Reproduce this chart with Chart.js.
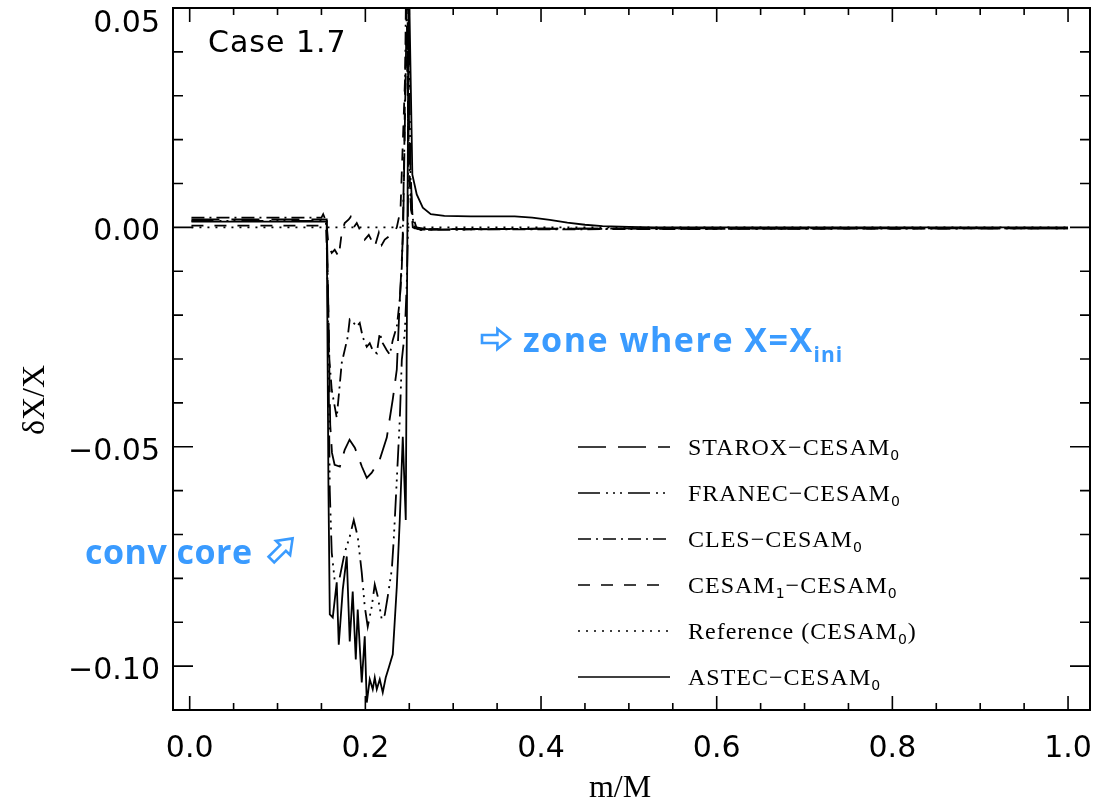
<!DOCTYPE html>
<html>
<head>
<meta charset="utf-8">
<title>Case 1.7</title>
<script src="https://cdn.jsdelivr.net/npm/chart.js@4.4.1/dist/chart.umd.min.js"></script>
<style>
  html, body { margin: 0; padding: 0; background: #fff; }
  #wrap { width: 1111px; height: 806px; }
</style>
</head>
<body>
<div id="wrap"><canvas id="profile" width="1111" height="806"></canvas></div>
<script>
// [m/M, dX/X] pairs for every model difference
const starox = [
    [0.002, 0.0018], [0.156, 0.0018], [0.158, -0.020], [0.160, -0.045], [0.162, -0.0514],
    [0.165, -0.0541], [0.171, -0.0545], [0.1765, -0.0507], [0.182, -0.0484], [0.188, -0.0502],
    [0.196, -0.0545], [0.2016, -0.0571], [0.2073, -0.0559], [0.2164, -0.0529], [0.2244, -0.0479],
    [0.2312, -0.0392], [0.2358, -0.0324], [0.2392, -0.0165], [0.2415, -0.0074], [0.2430, -0.0010],
    [0.2455, 0.030], [0.2475, 0.056], [0.2500, 0.020], [0.2535, 0.003], [0.258, 0.0],
    [0.270, -0.0004], [0.40, -0.0003], [0.60, -0.0002], [1.0, -0.0002]
];
const franec = [
    [0.002, 0.0015], [0.156, 0.0015], [0.158, -0.030], [0.1595, -0.060], [0.1617, -0.0741],
    [0.165, -0.0803], [0.1708, -0.0798], [0.1765, -0.0741], [0.1822, -0.0705], [0.1868, -0.0667],
    [0.1913, -0.0705], [0.1959, -0.0787], [0.1993, -0.0864], [0.2027, -0.0910], [0.2073, -0.0864],
    [0.2107, -0.0814], [0.2141, -0.0841], [0.2187, -0.0894], [0.2221, -0.0883], [0.2255, -0.0841],
    [0.2301, -0.0780], [0.2323, -0.0712], [0.2335, -0.0666], [0.2358, -0.0575], [0.2392, -0.0438],
    [0.2415, -0.0302], [0.2449, -0.0240], [0.2472, -0.0127], [0.2483, -0.0028], [0.2495, 0.045],
    [0.2515, 0.010], [0.2545, 0.0], [0.260, -0.0006], [0.40, -0.0003], [1.0, -0.0002]
];
const cles = [
    [0.002, 0.0022], [0.150, 0.0022], [0.152, 0.0030], [0.155, 0.0015], [0.157, -0.010],
    [0.159, -0.030], [0.1617, -0.037], [0.1674, -0.0434], [0.1731, -0.0309], [0.1799, -0.0250],
    [0.1822, -0.0210], [0.1856, -0.0215], [0.1902, -0.0226], [0.1936, -0.0218], [0.1970, -0.0250],
    [0.2016, -0.0272], [0.2050, -0.0264], [0.2084, -0.0280], [0.2130, -0.0287], [0.2164, -0.0241],
    [0.2198, -0.0264], [0.2244, -0.0280], [0.2278, -0.0290], [0.2312, -0.0257], [0.2358, -0.0226],
    [0.2392, -0.0165], [0.2415, -0.0090], [0.2426, -0.0012], [0.2445, 0.020], [0.2465, 0.058],
    [0.2490, 0.020], [0.2520, 0.004], [0.256, 0.0], [0.262, -0.0005], [1.0, -0.0002]
];
const cesam1 = [
    [0.002, 0.0004], [0.156, 0.0004], [0.158, -0.0040], [0.1617, -0.0058], [0.1651, -0.0051],
    [0.1697, -0.0067], [0.1731, -0.0012], [0.1765, 0.0010], [0.1811, 0.0018], [0.1833, 0.0024],
    [0.1868, 0.0], [0.1902, 0.0010], [0.1936, -0.0005], [0.1993, -0.0028], [0.2039, -0.0017],
    [0.2107, -0.0044], [0.2153, -0.0012], [0.2187, -0.0040], [0.2221, -0.0028], [0.2323, -0.0012],
    [0.2358, 0.0], [0.2400, 0.004], [0.2445, 0.030], [0.2470, 0.045], [0.2500, 0.010],
    [0.254, 0.0], [0.260, -0.0004], [1.0, -0.0002]
];
const reference = [[0.002, 0.0], [1.0, 0.0]];
const astec = [
    [0.002, 0.0013], [0.156, 0.0013], [0.158, -0.060], [0.1595, -0.0882], [0.1629, -0.0889],
    [0.1674, -0.0809], [0.1697, -0.0951], [0.1743, -0.0825], [0.1788, -0.0750], [0.1822, -0.0944],
    [0.1856, -0.0830], [0.1891, -0.0985], [0.1913, -0.0871], [0.1959, -0.1037], [0.1993, -0.0932],
    [0.2016, -0.1083], [0.2050, -0.1030], [0.2084, -0.1053], [0.2107, -0.1026], [0.2130, -0.1053],
    [0.2164, -0.1030], [0.2198, -0.1060], [0.2232, -0.1026], [0.2267, -0.1003], [0.2312, -0.0973],
    [0.2358, -0.0819], [0.2392, -0.0666], [0.2426, -0.0477], [0.2460, -0.0667], [0.2495, 0.058],
    [0.2535, 0.012], [0.2585, 0.0075], [0.2654, 0.0045], [0.2745, 0.0030], [0.29, 0.0026],
    [0.32, 0.0025], [0.37, 0.0025], [0.39, 0.0022], [0.41, 0.0017], [0.43, 0.0011],
    [0.45, 0.0006], [0.47, 0.0003], [0.50, 0.0001], [0.53, 0.0], [1.0, 0.0]
];

const seriesNames = ['STAROX−CESAM_0', 'FRANEC−CESAM_0', 'CLES−CESAM_0',
                     'CESAM_1−CESAM_0', 'Reference (CESAM_0)', 'ASTEC−CESAM_0'];
const seriesDash = [[28, 12], [22, 6, 2, 5, 2, 5, 2, 6], [13, 5, 2, 5], [12, 11], [2, 6], []];
const seriesData = [starox, franec, cles, cesam1, reference, astec];

const xTicks = [0, 0.2, 0.4, 0.6, 0.8, 1.0];
const xTickLabels = ['0.0', '0.2', '0.4', '0.6', '0.8', '1.0'];
const yTicks = [0.05, 0.0, -0.05, -0.10];
const yTickLabels = ['0.05', '0.00', '−0.05', '−0.10'];
const xMinorStep = 0.05;
const yMinorStep = 0.01;

const BLUE = '#3a9bff';
const NOTE_FONT = 'bold 34px "Open Sans"';

// outlined block arrow, like the white arrow glyphs
function blockArrow(ctx, cx, cy, angle, len, h) {
    const shaft = h * 0.4, head = len * 0.45;
    const pts = [
        [-len / 2, -shaft / 2], [len / 2 - head, -shaft / 2], [len / 2 - head, -h / 2],
        [len / 2, 0], [len / 2 - head, h / 2], [len / 2 - head, shaft / 2], [-len / 2, shaft / 2]
    ];
    ctx.save();
    ctx.translate(cx, cy);
    ctx.rotate(angle);
    ctx.beginPath();
    pts.forEach(([px, py], i) => i ? ctx.lineTo(px, py) : ctx.moveTo(px, py));
    ctx.closePath();
    ctx.strokeStyle = BLUE;
    ctx.lineWidth = 2.6;
    ctx.lineJoin = 'miter';
    ctx.stroke();
    ctx.restore();
}

// text where "_c" puts the single character c as a subscript
function subText(ctx, str, x, y, font, subFont, drop) {
    let cx = x;
    str.split(/(_.)/).forEach(part => {
        if (!part) return;
        if (part[0] === '_') {
            ctx.font = subFont;
            ctx.fillText(part[1], cx, y + drop);
            cx += ctx.measureText(part[1]).width;
        } else {
            ctx.font = font;
            ctx.fillText(part, cx, y);
            cx += ctx.measureText(part).width;
        }
    });
    return cx;
}

const framePlugin = {
    id: 'framePlugin',
    afterDraw(chart) {
        const { ctx, chartArea: a, scales: { x, y } } = chart;
        ctx.save();

        // box
        ctx.strokeStyle = '#000';
        ctx.lineWidth = 2;
        ctx.setLineDash([]);
        ctx.strokeRect(a.left, a.top, a.right - a.left, a.bottom - a.top);

        // inward ticks on all four sides
        ctx.lineWidth = 1.6;
        ctx.beginPath();
        for (let i = 0; i * xMinorStep <= 1.0001; i++) {
            const px = x.getPixelForValue(i * xMinorStep);
            const len = i % 4 === 0 ? 14 : 7;
            ctx.moveTo(px, a.bottom); ctx.lineTo(px, a.bottom - len);
            ctx.moveTo(px, a.top); ctx.lineTo(px, a.top + len);
        }
        for (let i = -10; i <= 5; i++) {
            const py = y.getPixelForValue(i * yMinorStep);
            const len = i % 5 === 0 ? 20 : 10;
            ctx.moveTo(a.left, py); ctx.lineTo(a.left + len, py);
            ctx.moveTo(a.right, py); ctx.lineTo(a.right - len, py);
        }
        ctx.stroke();

        // tick labels
        ctx.fillStyle = '#000';
        ctx.font = '30px "DejaVu Sans"';
        ctx.textAlign = 'center';
        ctx.textBaseline = 'alphabetic';
        xTicks.forEach((v, i) => ctx.fillText(xTickLabels[i], x.getPixelForValue(v), 757));
        ctx.textAlign = 'right';
        yTicks.forEach((v, i) => {
            const py = Math.max(y.getPixelForValue(v) + 13, 32);
            ctx.fillText(yTickLabels[i], a.left - 13, py);
        });

        // axis titles
        ctx.textAlign = 'center';
        ctx.font = '32px "Liberation Serif"';
        ctx.fillText('m/M', 620, 797);
        ctx.save();
        ctx.translate(44, 400);
        ctx.rotate(-Math.PI / 2);
        ctx.fillText('δX/X', 0, 0);
        ctx.restore();

        ctx.textAlign = 'left';
        ctx.font = '30px "DejaVu Sans"';
        ctx.letterSpacing = '1px';
        ctx.fillText('Case 1.7', 208, 52);

        // legend
        chart.data.datasets.forEach((ds, i) => {
            const base = 455 + i * 46;
            ctx.beginPath();
            ctx.lineWidth = 1.7;
            ctx.setLineDash(ds.borderDash);
            ctx.moveTo(578, base - 8);
            ctx.lineTo(670, base - 8);
            ctx.stroke();
            ctx.setLineDash([]);
            ctx.letterSpacing = '1px';
            subText(ctx, ds.label, 688, base, '24px "Liberation Serif"', '14px "DejaVu Sans"', 5);
        });

        // annotations
        ctx.letterSpacing = '1.5px';
        ctx.fillStyle = BLUE;
        ctx.font = NOTE_FONT;
        ctx.fillText('zone where X=X', 523, 352);
        const w = ctx.measureText('zone where X=X').width;
        ctx.letterSpacing = '1px';
        ctx.font = 'bold 21px "Open Sans"';
        ctx.fillText('ini', 523 + w, 362);
        blockArrow(ctx, 496, 339, 0, 28, 20);

        ctx.letterSpacing = '0.5px';
        ctx.font = NOTE_FONT;
        ctx.fillText('conv core', 85, 564);
        blockArrow(ctx, 282, 549, -Math.PI / 4, 30, 20);

        ctx.restore();
    }
};

new Chart(document.getElementById('profile'), {
    type: 'line',
    data: {
        datasets: seriesData.map((pts, i) => ({
            label: seriesNames[i],
            data: pts.map(([m, d]) => ({ x: m, y: d })),
            borderColor: '#000',
            borderWidth: 1.8,
            borderDash: seriesDash[i],
            pointRadius: 0,
            tension: 0,
            fill: false
        }))
    },
    options: {
        responsive: false,
        animation: false,
        layout: { padding: { left: 173, right: 21, top: 8, bottom: 96 } },
        plugins: {
            legend: { display: false },
            tooltip: { enabled: false }
        },
        scales: {
            x: { type: 'linear', min: -0.019, max: 1.025, display: false },
            y: { type: 'linear', min: -0.110, max: 0.050, display: false }
        }
    },
    plugins: [framePlugin]
});
</script>
</body>
</html>
